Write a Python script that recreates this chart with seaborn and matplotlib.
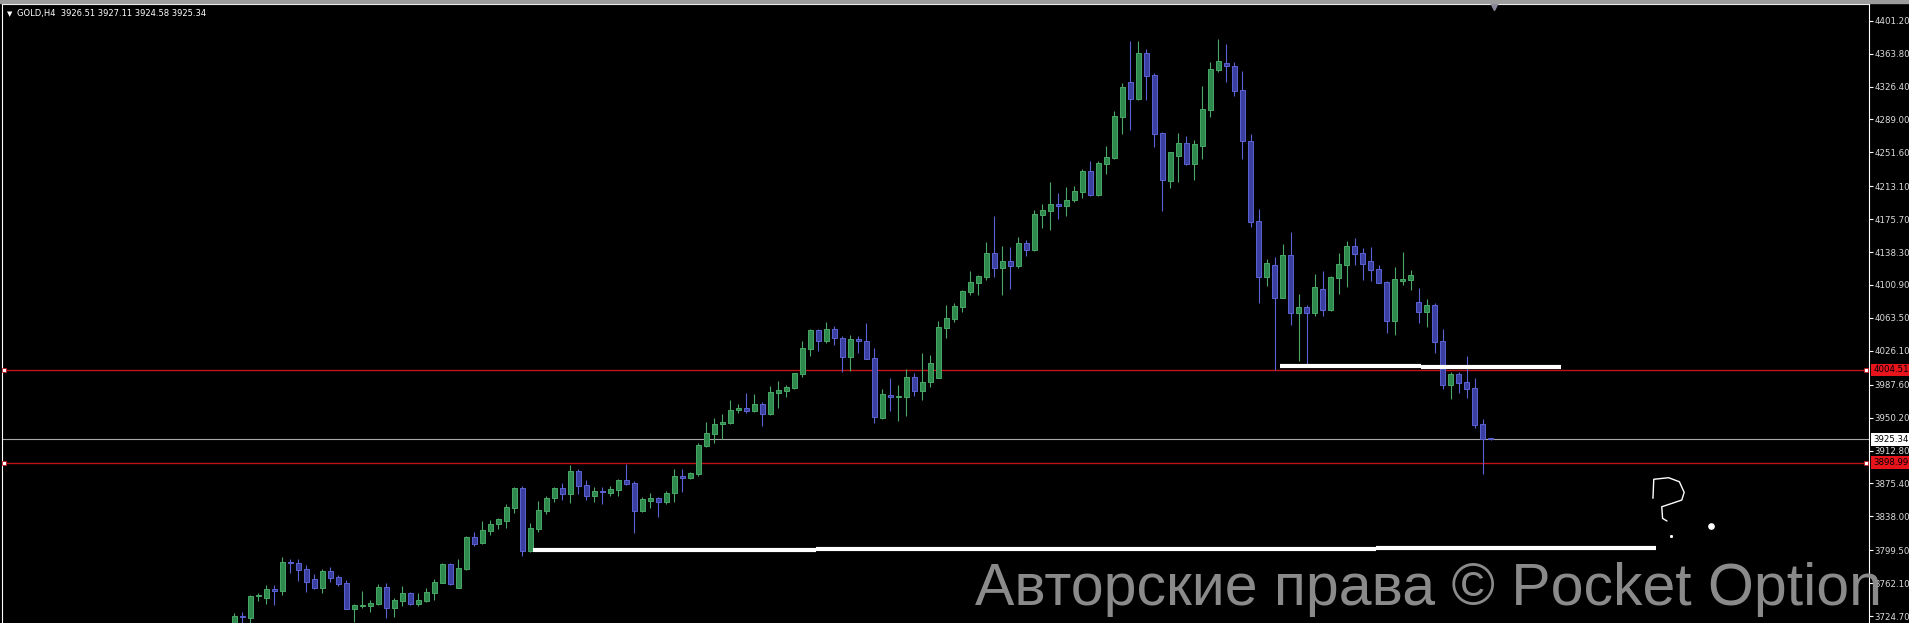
#GOLD H4 candle chart (MT4 style screenshot)

import numpy as np
import pandas as pd
import seaborn as sns
import matplotlib.pyplot as plt
from matplotlib.patches import Rectangle

#candles, oldest -> newest
opens = [3712.0, 3724.7, 3722.8, 3747.5, 3745.6, 3755.0, 3753.1, 3786.1, 3784.9, 3778.1,
         3766.8, 3756.9, 3775.9, 3769.0, 3762.2, 3733.1, 3736.5, 3736.1, 3738.4, 3757.7,
         3734.2, 3741.8, 3750.9, 3738.7, 3741.8, 3751.2, 3762.6, 3783.8, 3756.9, 3778.1,
         3814.1, 3807.7, 3821.7, 3829.7, 3833.1, 3847.8, 3870.2, 3799.0, 3824.0, 3844.4,
         3859.2, 3869.8, 3863.8, 3889.5, 3873.6, 3860.7, 3866.7, 3864.8, 3867.8, 3878.8,
         3875.8, 3844.0, 3855.7, 3858.8, 3854.6, 3864.1, 3883.4, 3881.5, 3886.4, 3918.2,
         3931.9, 3942.5, 3944.4, 3958.4, 3961.0, 3957.6, 3965.2, 3954.2, 3978.5, 3980.7,
         3984.1, 3999.7, 4028.5, 4049.3, 4037.6, 4050.4, 4040.6, 4019.4, 4039.8, 4037.2,
         4017.9, 3950.1, 3975.4, 3973.2, 3973.9, 3996.3, 3980.7, 3990.2, 3995.5, 4052.3,
         4062.5, 4075.8, 4093.2, 4103.5, 4110.3, 4137.2, 4120.5, 4128.1, 4122.8, 4148.5,
         4141.0, 4180.7, 4185.3, 4192.9, 4191.0, 4197.0, 4206.9, 4230.0, 4203.1, 4238.7,
         4245.1, 4292.1, 4331.1, 4312.2, 4364.1, 4339.1, 4273.2, 4219.4, 4247.8, 4261.8,
         4238.7, 4259.2, 4300.1, 4345.5, 4353.1, 4349.3, 4322.0, 4264.1, 4173.6, 4110.3,
         4123.2, 4086.4, 4134.9, 4069.4, 4075.5, 4069.4, 4095.9, 4072.4, 4109.2, 4124.0,
         4144.8, 4137.2, 4128.1, 4119.0, 4104.2, 4060.3, 4105.8, 4106.9, 4081.5, 4070.2,
         4078.1, 4037.2, 3987.6, 3999.7, 3990.6, 3983.8, 3942.9, 3926.51]
highs = [3727.8, 3728.9, 3748.6, 3750.5, 3759.6, 3759.6, 3791.8, 3789.1, 3789.1, 3782.3,
         3772.1, 3778.1, 3780.4, 3771.7, 3765.6, 3738.7, 3752.8, 3742.5, 3761.5, 3761.8,
         3744.8, 3758.8, 3752.4, 3750.9, 3756.5, 3766.8, 3784.6, 3784.6, 3789.5, 3815.6,
         3820.2, 3832.7, 3833.8, 3835.7, 3852.0, 3871.3, 3872.5, 3830.0, 3855.4, 3860.7,
         3871.3, 3875.9, 3896.3, 3891.8, 3879.3, 3871.3, 3871.3, 3872.4, 3880.4, 3897.4,
         3877.7, 3859.9, 3864.1, 3860.2, 3866.7, 3891.3, 3891.7, 3888.7, 3920.9, 3944.7,
         3949.7, 3953.8, 3970.1, 3965.2, 3978.1, 3976.6, 3967.5, 3985.7, 3991.7, 3987.2,
         4001.2, 4037.2, 4050.5, 4050.5, 4058.4, 4054.2, 4042.9, 4043.6, 4042.9, 4057.6,
         4028.8, 3982.3, 3995.5, 3986.8, 4005.7, 4000.4, 4023.5, 4020.9, 4060.3, 4078.1,
         4080.4, 4095.5, 4116.7, 4112.6, 4149.7, 4179.2, 4145.1, 4144.0, 4155.3, 4151.6,
         4185.7, 4192.9, 4217.9, 4205.4, 4212.2, 4213.3, 4232.3, 4241.7, 4241.4, 4258.8,
         4298.6, 4329.9, 4378.1, 4378.1, 4369.0, 4341.4, 4274.7, 4252.5, 4273.2, 4269.8,
         4265.2, 4327.0, 4353.9, 4380.0, 4374.7, 4353.9, 4344.0, 4272.0, 4187.2, 4130.4,
         4132.7, 4147.4, 4160.7, 4090.6, 4078.1, 4113.3, 4116.7, 4111.0, 4137.2, 4150.8,
         4154.2, 4142.9, 4144.0, 4123.6, 4105.4, 4121.3, 4138.3, 4117.9, 4097.4, 4084.9,
         4080.4, 4050.8, 4002.4, 4002.4, 4020.2, 3995.1, 3948.6, 3927.11]
lows = [3705.0, 3712.0, 3716.8, 3742.2, 3738.4, 3737.6, 3748.6, 3774.0, 3764.9, 3752.0,
        3755.8, 3751.2, 3763.7, 3759.2, 3733.1, 3718.3, 3733.4, 3729.7, 3737.2, 3722.8,
        3723.9, 3736.1, 3737.6, 3735.7, 3740.2, 3742.9, 3761.8, 3760.3, 3756.9, 3777.0,
        3804.3, 3806.5, 3816.8, 3823.2, 3825.1, 3842.2, 3793.3, 3797.8, 3820.6, 3840.3,
        3854.7, 3856.2, 3853.5, 3863.8, 3856.9, 3854.3, 3851.9, 3861.0, 3861.0, 3873.9,
        3819.4, 3842.9, 3847.4, 3837.5, 3851.6, 3854.6, 3866.0, 3880.4, 3884.2, 3917.1,
        3921.6, 3925.4, 3942.5, 3955.7, 3955.7, 3956.5, 3941.0, 3953.1, 3961.4, 3973.9,
        3983.0, 3995.9, 4020.1, 4026.2, 4035.3, 4032.3, 4001.6, 4003.1, 4023.5, 4017.1,
        3944.4, 3948.9, 3958.0, 3946.6, 3952.3, 3975.1, 3970.5, 3984.5, 3995.5, 4040.9,
        4059.1, 4070.5, 4089.4, 4089.4, 4106.1, 4110.3, 4089.8, 4096.3, 4120.5, 4134.1,
        4139.8, 4166.0, 4163.3, 4175.8, 4179.2, 4194.7, 4199.3, 4202.3, 4202.3, 4226.9,
        4244.4, 4272.8, 4277.3, 4311.4, 4311.4, 4258.0, 4185.3, 4211.4, 4218.2, 4237.5,
        4220.5, 4244.4, 4292.1, 4343.2, 4331.9, 4316.0, 4244.4, 4167.1, 4080.8, 4099.7,
        4004.2, 4085.7, 4055.4, 4014.8, 4011.1, 4065.6, 4065.6, 4071.3, 4090.6, 4098.9,
        4124.0, 4106.5, 4105.8, 4102.7, 4046.7, 4044.0, 4101.2, 4095.2, 4058.0, 4053.1,
        4023.9, 3983.0, 3971.7, 3978.5, 3972.8, 3938.3, 3886.0, 3924.58]
closes = [3724.7, 3723.2, 3747.5, 3749.0, 3755.0, 3753.5, 3785.7, 3784.6, 3777.4, 3763.7,
          3756.9, 3775.9, 3768.3, 3761.5, 3733.1, 3737.2, 3737.6, 3739.5, 3757.7, 3734.2,
          3742.9, 3750.9, 3738.7, 3742.9, 3752.0, 3763.4, 3783.8, 3761.1, 3778.9, 3814.5,
          3806.9, 3822.4, 3828.9, 3834.6, 3848.2, 3870.2, 3799.0, 3824.7, 3844.8, 3858.8,
          3869.8, 3863.8, 3889.5, 3872.8, 3860.7, 3866.8, 3865.2, 3869.0, 3878.8, 3875.1,
          3844.4, 3857.6, 3858.8, 3854.6, 3864.1, 3883.4, 3881.9, 3887.2, 3919.0, 3932.3,
          3942.9, 3945.1, 3958.4, 3961.0, 3957.6, 3965.2, 3954.6, 3979.2, 3981.5, 3985.3,
          4000.4, 4029.2, 4049.3, 4037.6, 4050.4, 4041.0, 4019.4, 4039.5, 4036.8, 4017.1,
          3950.4, 3976.9, 3973.2, 3974.7, 3996.3, 3980.0, 3990.6, 4011.8, 4052.7, 4063.3,
          4077.0, 4094.4, 4104.2, 4111.0, 4137.2, 4120.5, 4128.1, 4122.8, 4148.5, 4141.0,
          4181.5, 4186.0, 4192.9, 4191.0, 4197.4, 4207.6, 4230.0, 4203.1, 4239.1, 4246.3,
          4292.5, 4325.4, 4312.6, 4364.1, 4338.7, 4272.8, 4219.8, 4251.6, 4261.8, 4238.7,
          4260.7, 4300.4, 4345.9, 4355.0, 4349.3, 4321.7, 4264.1, 4172.8, 4110.3, 4125.8,
          4086.4, 4134.9, 4069.4, 4075.5, 4069.4, 4098.6, 4072.4, 4109.9, 4124.7, 4145.2,
          4136.4, 4125.1, 4118.3, 4102.7, 4060.3, 4107.7, 4107.3, 4111.8, 4070.5, 4078.1,
          4036.4, 3987.6, 3999.7, 3989.8, 3983.0, 3942.1, 3925.8, 3925.34]

price_ticks = [4401.20, 4363.80, 4326.40, 4289.00, 4251.60, 4213.10, 4175.70, 4138.30,
               4100.90, 4063.50, 4026.10, 3987.60, 3950.20, 3912.80, 3875.40, 3838.00,
               3799.50, 3762.10, 3724.70]
red_levels = [4004.51, 3898.99]
bid = 3925.34
header = "GOLD,H4  3926.51 3927.11 3924.58 3925.34"
watermark = "Авторские права © Pocket Option"

#hand drawn white lines: (bar start, bar end, price)
support_lines = [(37.3, 72.7, 3799.4), (72.7, 142.7, 3800.8), (142.7, 177.7, 3801.9),
                 (130.7, 148.3, 4008.5), (148.3, 165.8, 4007.4)]
#hand drawn question mark (bar, price)
qmark_x = [177.3, 177.4, 179.25, 180.6, 181.2, 180.9, 179.7, 178.4, 178.5, 179.05]
qmark_y = [3858.5, 3880.1, 3881.9, 3877.3, 3865.3, 3856.5, 3852.8, 3848.9, 3835.7, 3832.7]
big_dot = (184.5, 3826.6)
small_dot = (179.5, 3815.3)

sns.set_theme(style="dark", rc={"axes.facecolor": "black", "figure.facecolor": "black"})
plt.rcParams['font.family'] = ['DejaVu Sans']

df = pd.DataFrame({"open": opens, "high": highs, "low": lows, "close": closes})
df["bar"] = np.arange(len(df))
up = df["close"] >= df["open"]
edge = np.where(up, "#4aa867", "#5b63d3")
fill = np.where(up, "#2e8a4c", "#3a3fa0")

fig = plt.figure(figsize=(19.09, 6.23), dpi=100)
ax = fig.add_axes([1.5 / 1909, 0, 1867.5 / 1909, 619.3 / 623])
ax.set_facecolor("black")

#wicks then bodies
ax.vlines(df["bar"], df["low"], df["high"], colors=edge, linewidth=0.8, zorder=2)
ax.bar(df["bar"], (df["close"] - df["open"]).abs(), bottom=df[["open", "close"]].min(axis=1),
       width=0.56, color=fill, edgecolor=edge, linewidth=0.7, zorder=3)

#levels
for lvl in red_levels:
    ax.axhline(lvl, color="#c0141a", linewidth=1.0, zorder=1)
    ax.plot([0.0015, 0.9982], [lvl, lvl], transform=ax.get_yaxis_transform(), ls="none",
            marker="s", ms=3, mfc="white", mec="#c0141a", mew=0.6, zorder=5, clip_on=False)
ax.axhline(bid, color="#a8a8a8", linewidth=0.8, zorder=1)

#white drawn lines
for x0, x1, p in support_lines:
    sns.lineplot(x=[x0, x1], y=[p, p], color="white", linewidth=3, ax=ax,
                 solid_capstyle="butt", zorder=4)
sns.lineplot(x=qmark_x, y=qmark_y, sort=False, estimator=None, color="white",
             linewidth=1, ax=ax, zorder=4)
ax.plot([big_dot[0]], [big_dot[1]], ls="none", marker="o", ms=3.8, color="white", zorder=4)
ax.plot([small_dot[0]], [small_dot[1]], ls="none", marker="s", ms=1.1, color="white", zorder=4)

ax.set_xlim(-29.1, 204.3)
ax.set_ylim(3716.8, 4420.5)
ax.set_xlabel("")
ax.set_ylabel("")
ax.set_xticks([])
ax.yaxis.tick_right()
ax.set_yticks(price_ticks)
ax.set_yticklabels([f"{v:.2f}" for v in price_ticks])
ax.tick_params(axis="y", colors="white", labelcolor="#dcdcdc", length=3, width=0.8,
               pad=1, labelsize=6.2, right=True, left=False)
for side in ["left", "top", "right"]:
    ax.spines[side].set_visible(True)
    ax.spines[side].set_color("white")
    ax.spines[side].set_linewidth(0.8)
ax.spines["bottom"].set_visible(False)
ax.grid(False)

#price boxes on the right scale
for lvl in red_levels:
    ax.text(1.0022, lvl, f"{lvl:.2f}", transform=ax.get_yaxis_transform(), ha="left",
            va="center", fontsize=6.2, color="black", clip_on=False, zorder=6,
            bbox=dict(boxstyle="square,pad=0.2", fc="#e8141c", ec="none"))
ax.text(1.0022, bid, f"{bid:.2f}", transform=ax.get_yaxis_transform(), ha="left",
        va="center", fontsize=6.2, color="black", clip_on=False, zorder=6,
        bbox=dict(boxstyle="square,pad=0.2", fc="white", ec="none"))

#header and chart shift marker
fig.text(7 / 1909, 1 - 15.7 / 623, "▼", fontsize=5, color="white", va="baseline")
fig.text(16.7 / 1909, 1 - 15.7 / 623, header, fontsize=6.0, color="white", va="baseline")
ax.plot([0.7992], [0.9955], transform=ax.transAxes, marker="v", ms=5.5,
        color="#8a8a9a", clip_on=False, zorder=6)
fig.patches.append(Rectangle((0, 1 - 2.7 / 623), 1, 2.7 / 623, transform=fig.transFigure,
                             color="#9c9c9c", zorder=0))

#watermark
fig.text(975 / 1909, 18 / 623, watermark, fontsize=42.5, color="#939393",
         family="Liberation Sans", va="baseline", alpha=0.95)

fig.savefig("out.png", dpi=100, facecolor="black")
